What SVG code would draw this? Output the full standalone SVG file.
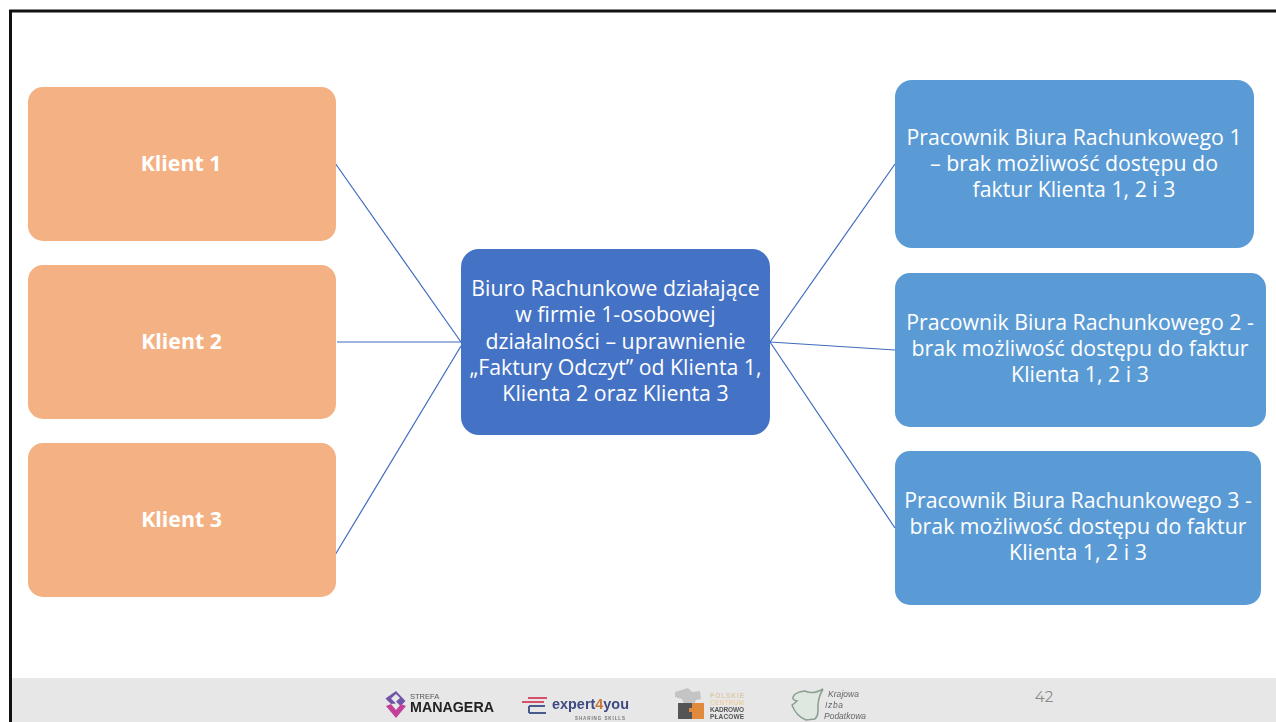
<svg xmlns="http://www.w3.org/2000/svg" width="1276" height="722" viewBox="0 0 1276 722">
<defs><filter id="soft" x="-5%" y="-5%" width="110%" height="110%"><feGaussianBlur stdDeviation="0.5"/></filter></defs>
<style>
.t{font-family:"Open Sans","Noto Sans",sans-serif;font-size:21.300px;fill:#fff;text-anchor:middle}
.b{font-weight:700}
.o{fill:#f4b183}
.l{fill:#5b9bd5}
.c{stroke:#3f6bbd;stroke-width:1.200;fill:none}
.f{font-family:"Liberation Sans",sans-serif}
</style>
<rect width="1276" height="722" fill="#fff"/>
<rect x="11" y="678" width="1265" height="44" fill="#e7e7e7"/>
<path d="M10.500 722V11H1276" fill="none" stroke="#111" stroke-width="3"/>
<g id="connectors">
<line class="c" x1="335" y1="163" x2="461" y2="342"/>
<line class="c" x1="337" y1="342" x2="461" y2="342" stroke-width="1.500"/>
<line class="c" x1="335" y1="555" x2="461" y2="346"/>
<line class="c" x1="770" y1="342" x2="895" y2="164"/>
<line class="c" x1="770" y1="342" x2="895" y2="350"/>
<line class="c" x1="770" y1="342" x2="895" y2="528"/>
</g>
<g id="klient1"><rect class="o" x="28" y="87" width="308" height="154" rx="15"/><text class="t b" x="181" y="171">Klient 1</text></g>
<g id="klient2"><rect class="o" x="28" y="265" width="308" height="154" rx="15"/><text class="t b" x="181.500" y="349">Klient 2</text></g>
<g id="klient3"><rect class="o" x="28" y="443" width="308" height="154" rx="15"/><text class="t b" x="181.500" y="527">Klient 3</text></g>
<g id="biuro"><rect x="461" y="249" width="309" height="186" rx="18" fill="#4472c4"/>
<text class="t"><tspan x="615.500" y="296">Biuro Rachunkowe działające</tspan><tspan x="615.500" y="322">w firmie 1-osobowej</tspan><tspan x="615.500" y="349">działalności – uprawnienie</tspan><tspan x="615.500" y="375">„Faktury Odczyt” od Klienta 1,</tspan><tspan x="615.500" y="401">Klienta 2 oraz Klienta 3</tspan></text></g>
<g id="pracownik1"><rect class="l" x="895" y="80" width="359" height="168" rx="17"/>
<text class="t"><tspan x="1074" y="145">Pracownik Biura Rachunkowego 1</tspan><tspan x="1074" y="171">– brak możliwość dostępu do</tspan><tspan x="1074" y="197">faktur Klienta 1, 2 i 3</tspan></text></g>
<g id="pracownik2"><rect class="l" x="895" y="273" width="371" height="154" rx="15"/>
<text class="t"><tspan x="1080" y="330">Pracownik Biura Rachunkowego 2 -</tspan><tspan x="1080" y="356">brak możliwość dostępu do faktur</tspan><tspan x="1080" y="382">Klienta 1, 2 i 3</tspan></text></g>
<g id="pracownik3"><rect class="l" x="895" y="451" width="366" height="154" rx="15"/>
<text class="t"><tspan x="1078" y="508">Pracownik Biura Rachunkowego 3 -</tspan><tspan x="1078" y="534">brak możliwość dostępu do faktur</tspan><tspan x="1078" y="560">Klienta 1, 2 i 3</tspan></text></g>
<g id="footer">
<g filter="url(#soft)">
<path d="M396 691l9.500 10-5 5-4.500-4.500 4-3.500-4-4-5 4.500 5 5-5 .5-5.500-5.500z" fill="#6f55a8"/>
<path d="M386 706l10 12 10-12-5-2-5 6-5-6z" fill="#c2409a"/>
<text class="f" x="410" y="699" font-size="7.500" fill="#555">STREFA</text>
<text class="f" x="410" y="712" font-size="14" font-weight="700" fill="#222" textLength="84" lengthAdjust="spacingAndGlyphs">MANAGERA</text>
<path d="M522 702h22M528 698h19M529 706h16M529 713h17M529 706v7" fill="none" stroke="#d8506a" stroke-width="2"/>
<path d="M529 706h16M529 713h17M529 706v7" fill="none" stroke="#4a5a8c" stroke-width="2"/>
<text class="f" x="552" y="709" font-size="15.500" font-weight="700" fill="#3f4a80" textLength="77" lengthAdjust="spacingAndGlyphs">expert<tspan fill="#c9783c">4</tspan>you</text>
<text class="f" x="575" y="720" font-size="4.500" font-weight="700" fill="#777" textLength="50">SHARING SKILLS</text>
<path d="M675 692l13-4 4 4 8-1 1 8-5 1-2 4h-10l-2-5-7-2z" fill="#c4c4c4"/>
<path d="M678 703h14v5h-3v4h3v7h-14z" fill="#555"/>
<path d="M692 703h12v16h-12v-7h-3v-4h3z" fill="#e08a3c"/>
<g class="f" font-size="6.500" font-weight="700">
<text x="710" y="698" fill="#dcc9a8" textLength="34">POLSKIE</text>
<text x="710" y="705" fill="#ecd0a8" textLength="34">CENTRUM</text>
<text x="710" y="712" fill="#555" textLength="34">KADROWO</text>
<text x="710" y="719" fill="#555" textLength="34">PŁACOWE</text>
</g>
<path d="M793 697q2-5 12-6 8 4 18-2-6 10-5 22 0 5-3 8l-9 1q-10-4-14-15 3-2 5-4-5-1-4-4z" fill="#dfe8e0" stroke="#8b9f90" stroke-width="1.500"/>
<g class="f" font-size="8.500" font-style="italic" fill="#666">
<text x="828" y="697" textLength="31">Krajowa</text>
<text x="825" y="708" textLength="18">Izba</text>
<text x="824" y="719" textLength="42">Podatkowa</text>
</g>
</g>
<text x="1044" y="702" font-family="Montserrat,'Open Sans',sans-serif" font-size="15" fill="#8a8a8a" text-anchor="middle">42</text>
</g>
</svg>
